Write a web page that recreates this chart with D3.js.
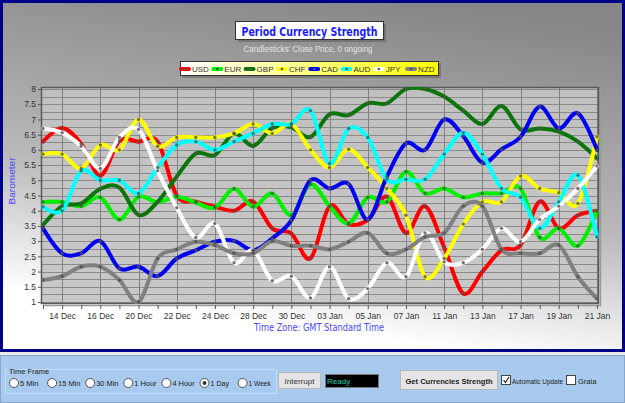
<!DOCTYPE html>
<html lang="en">
	<head>
		<meta charset="utf-8">
		<title>Period Currency Strength</title>
		<script type="text/javascript" src="https://cdn.jsdelivr.net/npm/d3@7"></script>
		<style type="text/css">
			body { margin: 0; padding: 0; background: #ffffff; }
			svg { display: block; font-family: "Liberation Sans", Arial, sans-serif; }
		</style>
	</head>
	<body>
		<script type="text/javascript">

			//Width and height
			var w = 625;
			var h = 403;

			var dates = ["13 Dec","14 Dec","15 Dec","16 Dec","17 Dec","20 Dec","21 Dec","22 Dec","23 Dec","24 Dec",
						 "27 Dec","28 Dec","29 Dec","30 Dec","31 Dec","03 Jan","04 Jan","05 Jan","06 Jan","07 Jan",
						 "10 Jan","11 Jan","12 Jan","13 Jan","14 Jan","17 Jan","18 Jan","19 Jan","20 Jan","21 Jan"];

			var yTicks = [1,1.5,2,2.5,3,3.5,4,4.5,5,5.5,6,6.5,7,7.5,8];

			var currencies = ["USD","EUR","GBP","CHF","CAD","AUD","JPY","NZD"];
			var colors = ["#ff0000","#00f000","#0a760a","#ffff00","#0000f0","#00ffff","#ffffff","#808080"];

			var usd = [6.27,6.72,6.2,5.15,6.3,6.27,6.27,4.5,4.3,4.13,4.0,4.3,3.42,3.25,2.43,4.15,3.56,3.7,4.46,3.27,4.15,2.8,1.28,2.0,2.7,2.87,4.3,3.42,3.85,4.0];
			var eur = [4.29,4.29,4.15,4.44,3.71,4.46,4.28,4.46,4.27,4.1,4.72,4.13,4.57,3.85,4.87,4.15,3.58,4.44,4.29,5.28,4.57,4.73,4.44,4.57,4.57,4.73,3.12,3.42,2.85,4.0];
			var gbp = [3.53,4.15,4.24,4.72,4.76,3.86,4.29,5.12,5.88,5.83,6.54,6.13,6.72,6.74,6.42,7.17,7.14,7.53,7.53,8.0,8.0,7.75,7.29,6.85,7.44,6.67,6.7,6.6,6.27,5.72];
			var chf = [5.86,5.86,5.39,6.16,6.0,7.0,6.12,6.41,6.41,6.41,6.54,6.85,6.54,6.85,6.0,5.42,6.02,5.42,4.73,3.85,1.83,2.43,3.56,4.29,4.29,5.14,4.73,4.59,4.24,6.43];
			var cad = [3.42,2.6,2.6,3.0,2.1,2.16,1.85,2.43,2.7,2.98,3.01,2.7,3.09,3.68,5.0,4.73,4.88,3.71,5.12,6.21,6.0,7.0,6.45,5.58,6.02,6.43,7.42,6.7,7.2,6.0];
			var aud = [4.13,4.0,5.31,5.0,5.0,4.57,5.42,6.16,6.27,6.0,6.27,6.54,6.85,6.85,7.29,5.55,6.7,6.41,5.03,5.03,5.03,5.86,6.56,5.86,4.73,4.44,3.42,4.29,5.17,3.14];
			var jpy = [6.7,6.56,6.12,5.39,6.41,6.67,5.31,4.1,3.12,3.58,2.29,2.7,1.7,1.85,1.13,2.16,1.11,1.44,2.29,1.83,3.27,2.32,2.29,2.73,3.42,2.98,3.71,4.15,4.73,5.47];
			var nzd = [1.72,1.85,2.16,2.16,1.72,1.0,2.43,2.73,2.98,2.87,2.6,2.6,3.0,2.85,2.85,2.73,2.98,3.27,2.6,2.73,3.14,3.27,4.15,4.15,2.73,2.6,2.6,2.87,1.83,1.11];

			var series = [usd,eur,gbp,chf,cad,aud,jpy,nzd];

			var timeFrames = ["5 Min","15 Min","30 Min","1 Hour","4 Hour","1 Day","1 Week"];

			//plot box
			var px0 = 41, px1 = 599, py0 = 87, py1 = 304;

			var xScale = d3.scalePoint()
			.domain(d3.range(dates.length))
			.range([43,597]);

			var yScale = d3.scaleLinear()
			.domain([1,8])
			.range([302,89]);

			//Create SVG element
			var svg = d3.select("body")
						.append("svg")
						.attr("width",w)
						.attr("height",h);

			var defs = svg.append("defs");

			var bg = defs.append("linearGradient").attr("id","bg")
			.attr("x1","0.62").attr("y1","0").attr("x2","0.38").attr("y2","1");
			bg.append("stop").attr("offset","0").attr("stop-color","#878787");
			bg.append("stop").attr("offset","0.55").attr("stop-color","#b9b9b9");
			bg.append("stop").attr("offset","0.92").attr("stop-color","#ffffff");

			var plotBg = defs.append("linearGradient").attr("id","plotbg")
			.attr("x1","0").attr("y1","0").attr("x2","0").attr("y2","1");
			plotBg.append("stop").attr("offset","0").attr("stop-color","#c0c0c0");
			plotBg.append("stop").attr("offset","1").attr("stop-color","#c9c9c9");

			var legBg = defs.append("linearGradient").attr("id","legbg")
			.attr("x1","0").attr("y1","0").attr("x2","1").attr("y2","0");
			legBg.append("stop").attr("offset","0").attr("stop-color","#ffffff");
			legBg.append("stop").attr("offset","1").attr("stop-color","#ffff00");

			defs.append("clipPath").attr("id","clip")
			.append("rect").attr("x",px0).attr("y",py0).attr("width",px1-px0).attr("height",py1-py0);

			//frame
			svg.append("rect")
			.attr("x",1.5).attr("y",1.5)
			.attr("width",622).attr("height",349)
			.attr("fill","url(#bg)")
			.attr("stroke","#000088")
			.attr("stroke-width",3);

			//title
			svg.append("rect")
			.attr("x",238).attr("y",24).attr("width",148).attr("height",18)
			.attr("fill","#555").attr("opacity",0.5);
			svg.append("rect")
			.attr("x",235.5).attr("y",21.5).attr("width",148).attr("height",18)
			.attr("fill","#ffffff").attr("stroke","#333").attr("stroke-width",1);
			svg.append("text")
			.text("Period Currency Strength")
			.attr("x",309.5).attr("y",35.5)
			.attr("text-anchor","middle")
			.attr("font-family","'DejaVu Sans Condensed', 'DejaVu Sans', sans-serif")
			.attr("font-weight","bold")
			.attr("font-size",12)
			.attr("textLength",136).attr("lengthAdjust","spacingAndGlyphs")
			.attr("fill","#1a1aff");

			svg.append("text")
			.text("Candlesticks' Close Price, 0 ongoing")
			.attr("x",308).attr("y",52)
			.attr("text-anchor","middle")
			.attr("font-size",8.5)
			.attr("textLength",129).attr("lengthAdjust","spacingAndGlyphs")
			.attr("fill","#e4e4e4");

			//legend
			svg.append("rect")
			.attr("x",182).attr("y",63).attr("width",259).attr("height",15)
			.attr("fill","#555").attr("opacity",0.45);
			svg.append("rect")
			.attr("x",180.5).attr("y",61.5).attr("width",258).attr("height",14)
			.attr("fill","url(#legbg)").attr("stroke","#333").attr("stroke-width",1);

			var leg = svg.selectAll("g.leg")
			.data(currencies)
			.enter()
			.append("g")
			.attr("class","leg")
			.attr("transform",function(d,i){return "translate("+(185+i*32.3)+",69)";});

			leg.append("line")
			.attr("x1",-4).attr("x2",4).attr("y1",0).attr("y2",0)
			.attr("stroke",function(d,i){return colors[i];})
			.attr("stroke-width",4)
			.attr("stroke-linecap","round");
			leg.append("circle")
			.attr("r",1.3)
			.attr("fill","#555");
			leg.append("text")
			.text(function(d){return d;})
			.attr("x",7).attr("y",3)
			.attr("font-size",8)
			.attr("fill","#333");

			//plot area
			svg.append("rect")
			.attr("x",px0).attr("y",py0)
			.attr("width",px1-px0).attr("height",py1-py0)
			.attr("fill","url(#plotbg)");

			//grid
			var hGrid = d3.range(1,8.01,0.25);
			svg.selectAll("line.hgrid")
			.data(hGrid)
			.enter()
			.append("line")
			.attr("class","hgrid")
			.attr("x1",px0).attr("x2",px1)
			.attr("y1",function(d){return Math.round(yScale(d))+0.5;})
			.attr("y2",function(d){return Math.round(yScale(d))+0.5;})
			.attr("stroke","#8a8a8a")
			.attr("stroke-width",1);

			svg.selectAll("line.vgrid")
			.data(d3.range(1,dates.length,2))
			.enter()
			.append("line")
			.attr("class","vgrid")
			.attr("x1",function(d){return Math.round(xScale(d))+0.5;})
			.attr("x2",function(d){return Math.round(xScale(d))+0.5;})
			.attr("y1",py0).attr("y2",py1)
			.attr("stroke","#808080")
			.attr("stroke-width",1);

			//plot border (3D look)
			svg.append("rect")
			.attr("x",px0+0.5).attr("y",py0+0.5)
			.attr("width",px1-px0-1).attr("height",py1-py0-1)
			.attr("fill","none")
			.attr("stroke","#5a5a5a")
			.attr("stroke-width",1.5);
			svg.append("polyline")
			.attr("points",(px0+2)+","+(py1+1.5)+" "+(px1+1.5)+","+(py1+1.5)+" "+(px1+1.5)+","+(py0+2))
			.attr("fill","none")
			.attr("stroke","#9a9a9a")
			.attr("stroke-width",1.5);

			//axes
			var yAxis = d3.axisLeft(yScale)
			.tickValues(yTicks)
			.tickSize(3)
			.tickPadding(2)
			.tickFormat(d3.format("~g"));

			svg.append("g")
			.attr("transform","translate("+px0+",0)")
			.call(yAxis)
			.call(function(g){
				g.select(".domain").remove();
				g.selectAll("line").attr("stroke","#555");
				g.selectAll("text").attr("font-size",8.5).attr("fill","#333").attr("font-family","'Liberation Sans', Arial, sans-serif");
			});

			var xAxis = d3.axisBottom(xScale)
			.tickSize(4)
			.tickPadding(4)
			.tickFormat(function(d){return d%2===1 ? dates[d] : "";});

			svg.append("g")
			.attr("transform","translate(0,"+(py1+1)+")")
			.call(xAxis)
			.call(function(g){
				g.select(".domain").remove();
				g.selectAll("line").attr("stroke","#555");
				g.selectAll("text").attr("font-size",8.5).attr("fill","#333").attr("font-family","'Liberation Sans', Arial, sans-serif");
			});

			svg.append("text")
			.text("Time Zone: GMT Standard Time")
			.attr("x",319).attr("y",331)
			.attr("text-anchor","middle")
			.attr("font-family","'DejaVu Sans Condensed', 'DejaVu Sans', sans-serif")
			.attr("font-size",10)
			.attr("textLength",130).attr("lengthAdjust","spacingAndGlyphs")
			.attr("fill","#4848ff");

			svg.append("text")
			.text("Barometer")
			.attr("transform","translate(15,181) rotate(-90)")
			.attr("text-anchor","middle")
			.attr("font-size",9.5)
			.attr("textLength",47).attr("lengthAdjust","spacingAndGlyphs")
			.attr("fill","#4848ff");

			//lines
			var line = d3.line()
			.x(function(d,i){return xScale(i);})
			.y(function(d){return yScale(d);})
			.curve(d3.curveCardinal);

			var plot = svg.append("g").attr("clip-path","url(#clip)");

			plot.selectAll("path.series")
			.data(series)
			.enter()
			.append("path")
			.attr("class","series")
			.attr("d",line)
			.attr("fill","none")
			.attr("stroke",function(d,i){return colors[i];})
			.attr("stroke-width",4)
			.attr("stroke-linejoin","round")
			.attr("stroke-linecap","round");

			plot.selectAll("g.dots")
			.data(series)
			.enter()
			.append("g")
			.attr("class","dots")
			.selectAll("circle")
			.data(function(d){return d;})
			.enter()
			.append("circle")
			.attr("cx",function(d,i){return xScale(i);})
			.attr("cy",function(d){return yScale(d);})
			.attr("r",1.7)
			.attr("fill","#505050")
			.attr("opacity",0.8);

			//bottom panel
			svg.append("rect")
			.attr("x",0).attr("y",352).attr("width",w).attr("height",51)
			.attr("fill","#e8e8e8");
			svg.append("rect")
			.attr("x",0.5).attr("y",355.5).attr("width",w-1).attr("height",47)
			.attr("fill","#a8caef")
			.attr("stroke","#8aa6c8");

			svg.append("rect")
			.attr("x",5.5).attr("y",369.5).attr("width",271).attr("height",24)
			.attr("fill","none")
			.attr("stroke","#c6dcf4");
			svg.append("text")
			.text("Time Frame")
			.attr("x",9).attr("y",374)
			.attr("font-size",7.5)
			.attr("fill","#222");

			var tf = svg.selectAll("g.tf")
			.data(timeFrames)
			.enter()
			.append("g")
			.attr("class","tf")
			.attr("transform",function(d,i){return "translate("+(14+i*38.1)+",383)";});

			tf.append("circle")
			.attr("r",4.5)
			.attr("fill","#ffffff")
			.attr("stroke","#555")
			.attr("stroke-width",1);
			tf.filter(function(d){return d==="1 Day";})
			.append("circle")
			.attr("r",2)
			.attr("fill","#333");
			tf.append("text")
			.text(function(d){return d;})
			.attr("x",6).attr("y",3)
			.attr("font-size",7.5)
			.attr("textLength",function(d){return d.length*3.7;})
			.attr("lengthAdjust","spacingAndGlyphs")
			.attr("fill","#222");

			//Interrupt button
			svg.append("rect")
			.attr("x",278.5).attr("y",372.5).attr("width",42).attr("height",16)
			.attr("fill","#e4e4e4").attr("stroke","#b8b8b8");
			svg.append("text")
			.text("Interrupt")
			.attr("x",299.5).attr("y",383.5)
			.attr("text-anchor","middle")
			.attr("font-size",8)
			.attr("fill","#333");

			svg.append("rect")
			.attr("x",325.5).attr("y",374.5).attr("width",53).attr("height",13)
			.attr("fill","#000000").attr("stroke","#777");
			svg.append("text")
			.text("Ready")
			.attr("x",327).attr("y",384)
			.attr("font-size",8)
			.attr("fill","#18d0b0");

			//Get button
			svg.append("rect")
			.attr("x",400.5).attr("y",370.5).attr("width",97).attr("height",19)
			.attr("fill","#e4e4e4").attr("stroke","#b8b8b8");
			svg.append("text")
			.text("Get Currencies Strength")
			.attr("x",449).attr("y",383.5)
			.attr("text-anchor","middle")
			.attr("font-size",8)
			.attr("font-weight","bold")
			.attr("textLength",87).attr("lengthAdjust","spacingAndGlyphs")
			.attr("fill","#222");

			//checkboxes
			svg.append("rect")
			.attr("x",501.5).attr("y",375.5).attr("width",9).attr("height",9)
			.attr("fill","#ffffff").attr("stroke","#444");
			svg.append("path")
			.attr("d","M503.5,380 L505.5,382.5 L509,377")
			.attr("fill","none").attr("stroke","#222").attr("stroke-width",1.2);
			svg.append("text")
			.text("Automatic Update")
			.attr("x",512).attr("y",383.5)
			.attr("font-size",7.5)
			.attr("textLength",51).attr("lengthAdjust","spacingAndGlyphs")
			.attr("fill","#222");
			svg.append("rect")
			.attr("x",566.5).attr("y",375.5).attr("width",9).attr("height",9)
			.attr("fill","#ffffff").attr("stroke","#444");
			svg.append("text")
			.text("Graia")
			.attr("x",578).attr("y",383.5)
			.attr("font-size",7.5)
			.attr("fill","#222");

		</script>
	</body>
</html>
